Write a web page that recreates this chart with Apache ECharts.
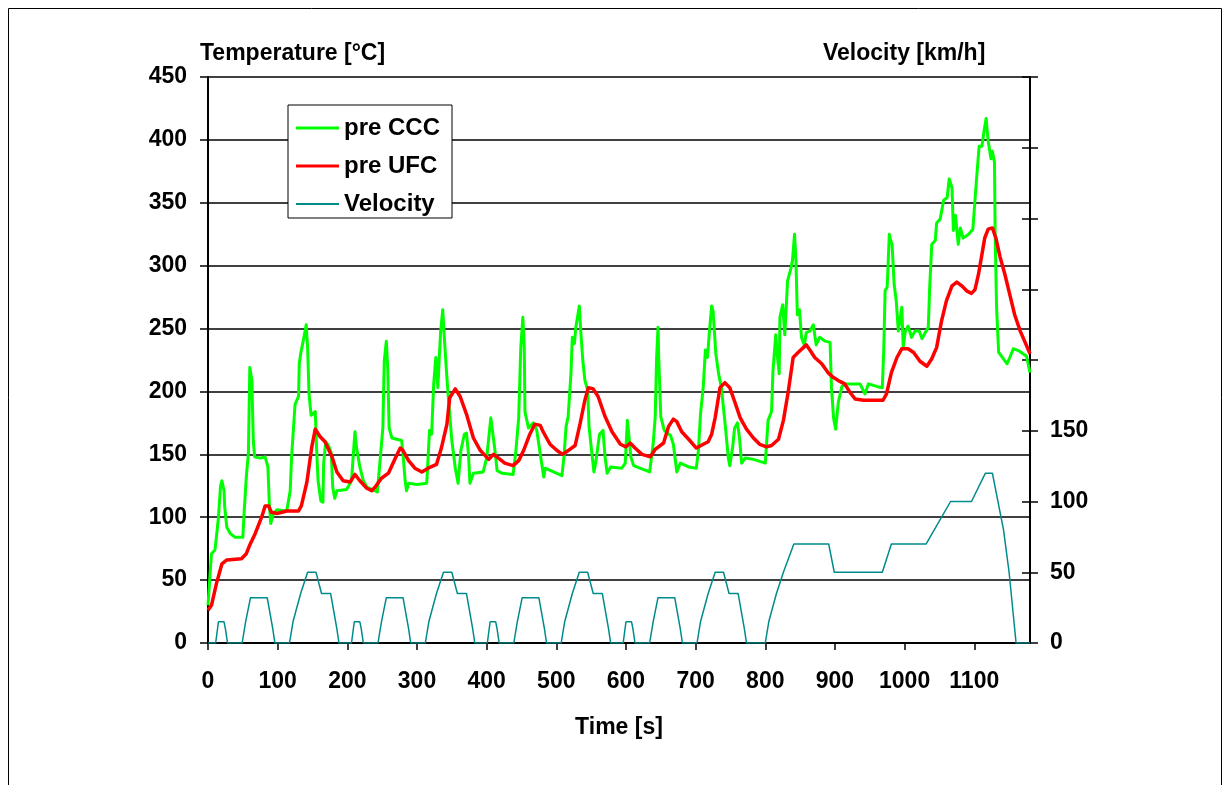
<!DOCTYPE html>
<html>
<head>
<meta charset="utf-8">
<title>Temperature / Velocity</title>
<script src="https://cdn.jsdelivr.net/npm/echarts@6/dist/echarts.min.js"></script>
<style>
    html, body { margin: 0; padding: 0; background: #fff; }
    #chart { width: 1230px; height: 785px; }
</style>
</head>
<body>
<div id="chart"></div>
<script>
// pre CCC temperature [°C] over time [s]
const cccTime = [0, 3, 5, 10, 12, 15, 18, 20, 23, 24, 27, 32, 39, 50, 52, 55, 58, 60, 63, 65, 67, 75, 82, 86, 88, 90, 94, 99, 113, 118, 120, 125, 130, 131, 133, 137, 141, 143, 145, 148, 154, 156, 158, 162, 165, 166, 169, 173, 177, 179, 182, 185, 199, 206, 209, 211, 213, 218, 223, 228, 240,
    243, 247, 251, 253, 256, 258, 260, 264, 278, 280, 283, 285, 288, 300, 314, 318, 321, 324, 327, 330, 332, 334, 337, 339, 342, 345, 350, 355, 359, 363, 368, 371, 374, 376, 381, 395, 400, 406, 409, 412, 415, 422, 438, 442, 446, 449, 452, 454, 455, 460, 467, 472, 477, 482,
    484, 496, 508, 511, 514, 517, 521, 523, 526, 528, 531, 533, 535, 538, 541, 545, 547, 551, 554, 557, 562, 567, 570, 573, 578, 594, 599, 602, 604, 607, 611, 620, 634, 639, 642, 644, 646, 647, 650, 655, 664, 668, 673, 678, 690, 701, 704, 707, 711, 714, 717, 720, 723, 725,
    729, 733, 737, 742, 747, 749, 753, 756, 760, 763, 766, 771, 783, 800, 804, 809, 811, 815, 817, 820, 821, 825, 828, 832, 836, 839, 842, 844, 846, 849, 852, 856, 859, 864, 869, 873, 878, 886, 893, 895, 898, 901, 905, 910, 917, 936, 943, 948, 960, 968,
    970, 972, 975, 978, 980, 982, 985, 988, 991, 993, 996, 998, 1001, 1005, 1010, 1015, 1021, 1025, 1029, 1034, 1036, 1039, 1044, 1046, 1051, 1056, 1061, 1064, 1068, 1070, 1073, 1077, 1080, 1084, 1092, 1098, 1101, 1103, 1107, 1111, 1114, 1117, 1120, 1124, 1126, 1129, 1130, 1132, 1135, 1139, 1147, 1151, 1156, 1165, 1175, 1180]
const cccTemp = [30, 55, 71, 74, 84, 100, 125, 129, 121, 108, 92, 87, 84, 84, 105, 132, 151, 219, 209, 161, 148, 147, 148, 140, 111, 95, 103, 106, 105, 121, 148, 190, 196, 222, 230, 241, 253, 235, 198, 181, 184, 153, 129, 113, 112, 143, 160, 157, 151, 124, 115, 121, 122, 129, 153, 168, 156, 140, 129, 124, 121,
    120, 145, 171, 224, 240, 219, 171, 163, 161, 150, 129, 121, 127, 126, 127, 169, 166, 206, 227, 203, 227, 248, 265, 245, 219, 195, 161, 139, 127, 153, 166, 167, 150, 127, 135, 136, 147, 179, 166, 153, 137, 135, 134, 153, 179, 235, 259, 235, 184, 171, 175, 169, 150, 132,
    139, 136, 133, 148, 172, 180, 214, 243, 238, 251, 261, 268, 249, 225, 209, 201, 172, 151, 136, 145, 166, 169, 148, 135, 140, 139, 143, 177, 166, 148, 141, 139, 136, 158, 180, 227, 251, 227, 180, 169, 165, 158, 136, 143, 140, 139, 153, 182, 204, 233, 227, 249, 268, 264,
    230, 214, 203, 176, 147, 141, 155, 171, 175, 163, 143, 147, 146, 143, 177, 184, 216, 245, 230, 214, 259, 269, 245, 288, 296, 304, 325, 304, 261, 265, 243, 237, 247, 248, 253, 237, 243, 240, 239, 203, 179, 170, 192, 204, 206, 206, 198, 206, 204, 203,
    232, 280, 283, 325, 320, 317, 285, 272, 248, 256, 267, 235, 248, 252, 243, 248, 248, 242, 246, 251, 283, 317, 320, 334, 337, 352, 354, 369, 362, 328, 340, 317, 330, 322, 325, 329, 352, 367, 395, 395, 407, 417, 399, 385, 391, 382, 325, 267, 231, 228, 222, 227, 234, 232, 228, 215]

// pre UFC temperature [°C] over time [s]
const ufcTime = [0, 5, 12, 20, 27, 48, 55, 60, 67, 77, 82, 87, 91, 99, 113, 130, 134, 142, 149, 154, 161, 168, 178, 185, 194, 204, 211, 218, 228, 235, 240,
    249, 259, 269, 276, 280, 288, 297, 307, 316, 328, 335, 343, 347, 355, 362, 371, 381, 391, 403, 410, 417, 426, 438, 446, 453, 462, 469, 477,
    481, 491, 501, 509, 517, 527, 534, 541, 546, 553, 560, 570, 580, 592, 600, 606, 613, 623, 635, 642, 654, 661, 668, 673, 680, 690, 701, 711, 718, 723, 728,
    735, 742, 749, 756, 764, 773, 783, 792, 802, 809, 819, 826, 833, 840, 847, 855, 859, 864, 871, 881, 890, 898, 907, 914, 922, 929, 941, 969,
    974, 981, 989, 996, 1005, 1013, 1022, 1032, 1039, 1046, 1053, 1060, 1068, 1075, 1082, 1089, 1096, 1101, 1106, 1111, 1115, 1120, 1126, 1131, 1137, 1144, 1151, 1158, 1166, 1173, 1180]
const ufcTemp = [26, 30, 47, 63, 66, 67, 71, 78, 86, 100, 109, 109, 104, 103, 105, 105, 109, 128, 156, 170, 164, 160, 148, 136, 129, 128, 134, 129, 123, 121, 124,
    131, 135, 147, 155, 153, 145, 139, 136, 139, 142, 155, 174, 195, 202, 196, 182, 163, 153, 146, 150, 147, 143, 141, 145, 153, 166, 174, 173,
    168, 158, 153, 150, 153, 157, 174, 193, 203, 202, 196, 180, 168, 158, 156, 159, 155, 150, 148, 154, 159, 172, 178, 176, 168, 162, 155, 158, 160, 166, 179,
    203, 207, 203, 192, 179, 170, 163, 158, 156, 157, 162, 177, 200, 227, 231, 235, 237, 233, 227, 222, 215, 211, 208, 206, 199, 194, 193, 193,
    198, 215, 227, 234, 234, 231, 224, 220, 226, 235, 256, 272, 284, 287, 284, 280, 278, 281, 293, 309, 322, 329, 330, 322, 307, 293, 277, 261, 248, 239, 230]

// vehicle velocity [km/h] over time [s]
const speedTime = [0, 11, 15, 23, 25, 28, 49, 54, 56, 61, 85, 93, 96, 117, 122, 124, 133, 135, 143, 155, 163, 176, 185, 188,
    195, 206, 210, 218, 220, 223, 244, 249, 251, 256, 280, 288, 291, 312, 317, 319, 328, 330, 338, 350, 358, 371, 380, 383,
    390, 401, 405, 413, 415, 418, 439, 444, 446, 451, 475, 483, 486, 507, 512, 514, 523, 525, 533, 545, 553, 566, 575, 578,
    585, 596, 600, 608, 610, 613, 634, 639, 641, 646, 670, 678, 681, 702, 707, 709, 718, 720, 728, 740, 748, 761, 770, 773,
    780, 800, 805, 807, 816, 818, 826, 828, 841, 891, 899, 968, 981, 1031, 1066, 1096, 1116, 1126, 1142, 1150, 1160, 1180]
const speedValue = [0, 0, 15, 15, 10, 0, 0, 15, 15, 32, 32, 10, 0, 0, 15, 15, 35, 35, 50, 50, 35, 35, 10, 0,
    0, 0, 15, 15, 10, 0, 0, 15, 15, 32, 32, 10, 0, 0, 15, 15, 35, 35, 50, 50, 35, 35, 10, 0,
    0, 0, 15, 15, 10, 0, 0, 15, 15, 32, 32, 10, 0, 0, 15, 15, 35, 35, 50, 50, 35, 35, 10, 0,
    0, 0, 15, 15, 10, 0, 0, 15, 15, 32, 32, 10, 0, 0, 15, 15, 35, 35, 50, 50, 35, 35, 10, 0,
    0, 0, 15, 15, 35, 35, 50, 50, 70, 70, 50, 50, 70, 70, 100, 100, 120, 120, 80, 50, 0, 0]

const seriesNames = ['pre CCC', 'pre UFC', 'Velocity']
const fontFamily = 'Arial, "Liberation Sans", sans-serif'

function zip(xs, ys) {
    return xs.map(function (x, i) { return [x, ys[i]] })
}

const myChart = echarts.init(document.getElementById('chart'))

const labelStyle = {
    color: '#000',
    fontSize: 23,
    fontWeight: 'bold',
    fontFamily: fontFamily
}

// thin bars used as legend keys (keep aspect -> plain line samples)
const thickKey = 'path://M0,0 H43 V3 H0 Z'
const thinKey = 'path://M0,0 H43 V2 H0 Z'

const option = {
    animation: false,
    backgroundColor: '#fff',
    grid: { left: 208, right: 200, top: 77, bottom: 142 },
    graphic: [
        // outer frame
        {
            type: 'rect', z: -1, silent: true,
            shape: { x: 8.5, y: 8.5, width: 1213, height: 800 },
            style: { fill: 'none', stroke: '#000', lineWidth: 1 }
        },
        {
            type: 'text', x: 200, y: 54,
            style: { text: 'Temperature [°C]', fill: '#000', font: 'bold 23px ' + fontFamily, verticalAlign: 'middle' }
        },
        {
            type: 'text', x: 823, y: 54,
            style: { text: 'Velocity [km/h]', fill: '#000', font: 'bold 23px ' + fontFamily, verticalAlign: 'middle' }
        },
        {
            type: 'text', x: 619, y: 728,
            style: { text: 'Time [s]', fill: '#000', font: 'bold 23px ' + fontFamily, align: 'center', verticalAlign: 'middle' }
        }
    ],
    legend: {
        data: [
            { name: seriesNames[0], icon: thickKey },
            { name: seriesNames[1], icon: thickKey },
            { name: seriesNames[2], icon: thinKey }
        ],
        orient: 'vertical',
        left: 288,
        top: 105,
        padding: [11, 12, 2, 8],
        itemGap: 14,
        itemWidth: 43,
        itemHeight: 12,
        backgroundColor: '#fff',
        borderColor: '#000',
        borderWidth: 1,
        textStyle: Object.assign({}, labelStyle, { fontSize: 24 })
    },
    xAxis: {
        type: 'value',
        min: 0,
        max: 1180,
        interval: 100,
        axisLine: { show: true, onZero: false, lineStyle: { color: '#000', width: 2 } },
        axisTick: { show: true, length: 7, lineStyle: { color: '#000', width: 1.5 } },
        splitLine: { show: false },
        axisLabel: Object.assign({
            margin: 27,
            showMaxLabel: false,
            formatter: function (v) { return v % 100 === 0 ? v : '' }
        }, labelStyle)
    },
    yAxis: [
        {
            type: 'value',
            min: 0,
            max: 450,
            interval: 50,
            position: 'left',
            axisLine: { show: true, lineStyle: { color: '#000', width: 2 } },
            axisTick: { show: true, length: 8, lineStyle: { color: '#000', width: 1.5 } },
            splitLine: { show: true, lineStyle: { color: '#000', width: 1.5 } },
            axisLabel: Object.assign({ margin: 21 }, labelStyle)
        },
        {
            type: 'value',
            min: 0,
            max: 400,
            interval: 50,
            position: 'right',
            axisLine: { show: true, lineStyle: { color: '#000', width: 2 } },
            axisTick: { show: true, length: 8, lineStyle: { color: '#000', width: 1.5 } },
            splitLine: { show: false },
            axisLabel: Object.assign({
                margin: 20,
                formatter: function (v) { return v <= 150 ? v : '' }
            }, labelStyle)
        },
        // inner half of the crossing ticks on the velocity axis
        {
            type: 'value',
            min: 0,
            max: 400,
            interval: 50,
            position: 'right',
            axisLine: { show: false },
            axisTick: { show: true, inside: true, length: 8, lineStyle: { color: '#000', width: 1.5 } },
            splitLine: { show: false },
            axisLabel: { show: false }
        }
    ],
    series: [
        {
            name: seriesNames[0],
            type: 'line',
            yAxisIndex: 0,
            symbol: 'none',
            color: '#00ff00',
            lineStyle: { color: '#00ff00', width: 3, join: 'round' },
            data: zip(cccTime, cccTemp)
        },
        {
            name: seriesNames[1],
            type: 'line',
            yAxisIndex: 0,
            symbol: 'none',
            color: '#ff0000',
            lineStyle: { color: '#ff0000', width: 3.5, join: 'round' },
            data: zip(ufcTime, ufcTemp)
        },
        {
            name: seriesNames[2],
            type: 'line',
            yAxisIndex: 1,
            symbol: 'none',
            color: '#008b8b',
            lineStyle: { color: '#008b8b', width: 1.5 },
            data: zip(speedTime, speedValue)
        }
    ]
}

myChart.setOption(option)
</script>
</body>
</html>
